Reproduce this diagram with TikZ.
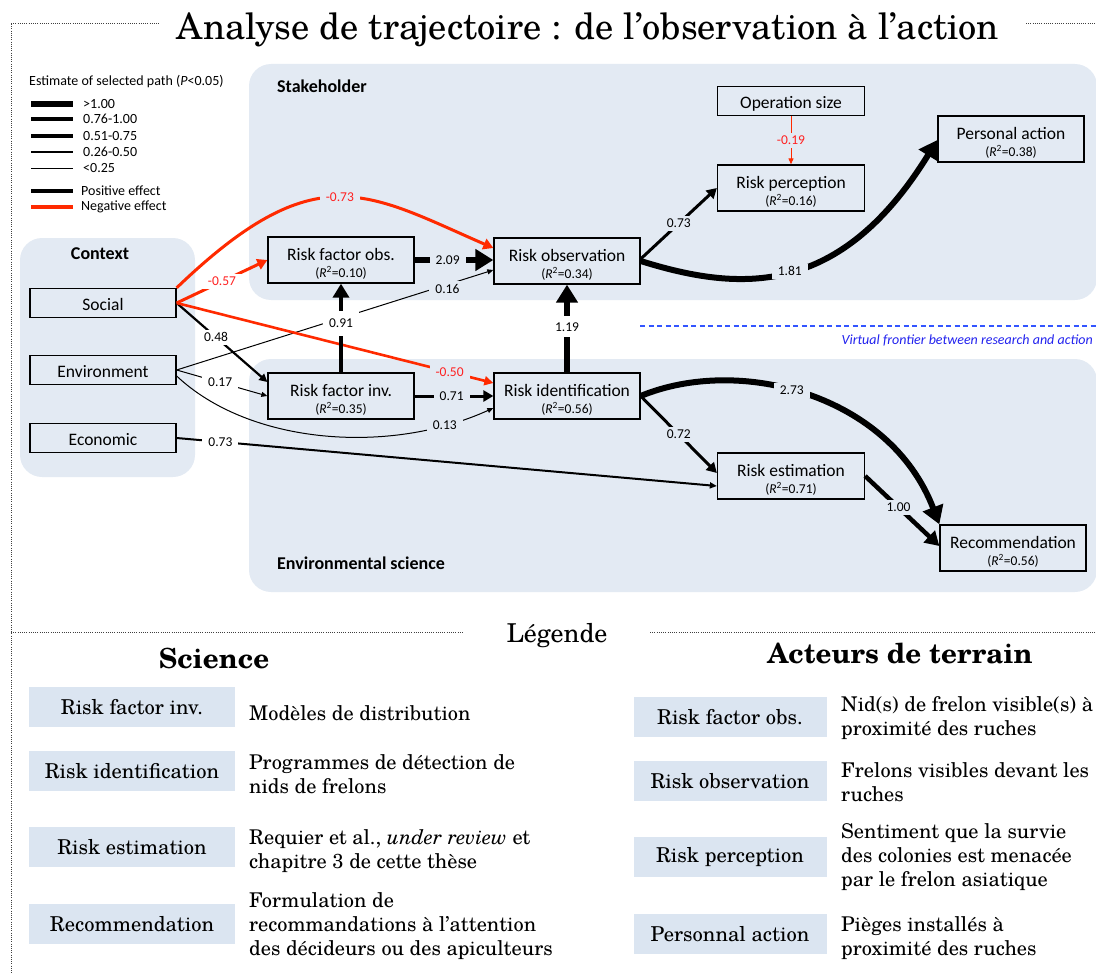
\documentclass[tikz,border=0pt]{standalone}
\usepackage{fontspec}
\setmainfont{texgyreschola}[Extension=.otf,UprightFont=*-regular,ItalicFont=*-italic,BoldFont=*-bold,BoldItalicFont=*-bolditalic]
\newfontfamily\carl{Carlito}
\usetikzlibrary{arrows.meta,calc}
\definecolor{panel}{HTML}{E3EAF3}
\definecolor{lboxc}{HTML}{DBE5F1}
\definecolor{negc}{HTML}{FF2A00}
\definecolor{negt}{HTML}{FF2020}
\definecolor{frontc}{HTML}{3355FF}
\definecolor{frontt}{HTML}{2222EE}
\newcommand\rsq[2]{\rule{0pt}{20pt}#1\\[-2pt]{\fontsize{13.5}{15}\selectfont(\textit{R}\textsuperscript{2}=#2)}}
\begin{document}
\begin{tikzpicture}[x=1pt,y=-1pt,
 box/.style={draw=black,line width=1.3pt,fill=panel,minimum width=146pt,minimum height=46pt,inner sep=0pt,align=center,font=\carl\fontsize{17.5}{19}\selectfont},
 cbox/.style={box,minimum height=29pt,text height=18pt,text depth=3pt},
 lbl/.style={font=\carl\fontsize{13.5}{15}\selectfont,inner xsep=6pt,inner ysep=3pt,fill=white},
 lblb/.style={lbl,fill=panel},
 nl/.style={text=negt},
 e1/.style={line width=1pt,-{Triangle[length=6pt,width=5pt]}},
 e2/.style={line width=2.2pt,-{Triangle[length=8pt,width=8pt]}},
 e3/.style={line width=3pt,-{Triangle[length=10pt,width=11pt]}},
 e4/.style={line width=4.5pt,-{Triangle[length=14pt,width=16pt]}},
 e6/.style={line width=6pt,-{Triangle[length=18pt,width=21pt]}},
 negl/.style={draw=negc},
 dotl/.style={line width=1pt,dash pattern=on 1pt off 1.2pt,black!75},
 panelbg/.style={fill=panel,rounded corners=22pt},
 lbox/.style={fill=lboxc,minimum height=40pt,inner sep=0pt,font=\fontsize{20.5}{24}\selectfont},
 desc/.style={anchor=west,align=left,inner sep=0pt,font=\fontsize{20.3}{24}\selectfont},
 sect/.style={font=\bfseries\fontsize{27.7}{31}\selectfont},
 lg/.style={font=\carl\fontsize{14}{16}\selectfont,anchor=west,inner sep=0pt},
 ptitle/.style={font=\carl\bfseries\fontsize{18}{20}\selectfont,inner sep=0pt}]
\useasboundingbox (0,0) rectangle (1096,974);
% frame
\draw[dotl] (11,24) -- (159,24);
\draw[dotl] (1026,24) -- (1096,24);
\draw[dotl] (11,24) -- (11,974);
\draw[dotl] (11,632) -- (464,632);
\draw[dotl] (650,632) -- (1096,632);
\node[anchor=base,font=\fontsize{36.3}{40}\selectfont] (title) at (588,40) {Analyse de trajectoire : de l’observation à l’action};
% panels
\fill[panelbg] (249,64) rectangle (1097,300);
\fill[panelbg] (249,359) rectangle (1097,592);
\fill[panelbg] (20,238) rectangle (195,477);
\node[ptitle,anchor=west] (stk) at (277,86) {Stakeholder};
\node[ptitle,anchor=west] (envs) at (277,563) {Environmental science};
\node[ptitle] (ctx) at (100,254) {Context};
% frontier
\draw[frontc,line width=1.3pt,dash pattern=on 5pt off 3.5pt] (640,326) -- (1096,326);
\node[anchor=east,text=frontt,font=\carl\itshape\fontsize{14}{16}\selectfont,inner sep=0pt] (fr) at (1093,340) {Virtual frontier between research and action};
% legend top-left
\node[lg] (lgt) at (29,82) {Estimate of selected path (\textit{P}<0.05)};
\draw[line width=6pt] (31,104) -- (73,104);
\draw[line width=4.6pt] (31,119) -- (73,119);
\draw[line width=3.4pt] (31,136) -- (73,136);
\draw[line width=2.2pt] (31,152) -- (73,152);
\draw[line width=1pt] (31,168) -- (73,168);
\draw[line width=3.4pt] (31,191) -- (73,191);
\draw[negc,line width=3.4pt] (31,207) -- (73,207);
\node[lg] (l1) at (83,104) {>1.00};
\node[lg] (l2) at (83,119) {0.76-1.00};
\node[lg] (l3) at (83,136) {0.51-0.75};
\node[lg] (l4) at (83,152) {0.26-0.50};
\node[lg] (l5) at (83,168) {<0.25};
\node[lg] (l6) at (81,191) {Positive effect};
\node[lg] (l7) at (81,207) {Negative effect};
% nodes
\node[cbox] (soc) at (103,303) {Social};
\node[cbox] (env) at (103,370) {Environment};
\node[cbox] (eco) at (103,438) {Economic};
\node[box] (rfo) at (341,260) {\rsq{Risk factor obs.}{0.10}};
\node[box] (ro) at (567,261) {\rsq{Risk observation}{0.34}};
\node[box] (rfi) at (341,396) {\rsq{Risk factor inv.}{0.35}};
\node[box] (ri) at (567,396) {\rsq{Risk identification}{0.56}};
\node[cbox,minimum width=147pt] (ops) at (791,101) {Operation size};
\node[box,minimum width=147pt] (rp) at (791,188) {\rsq{Risk perception}{0.16}};
\node[box] (pa) at (1011,139) {\rsq{Personal action}{0.38}};
\node[box,minimum width=147pt] (re) at (791,476) {\rsq{Risk estimation}{0.71}};
\node[box] (rec) at (1013,548) {\rsq{Recommendation}{0.56}};
% edges
\draw[e1] (env.east) -- node[lblb,pos=0.855,yshift=-4pt] {0.16} ($(ro.west)+(0,9)$);
\draw[e1] (env.east) -- node[lbl,pos=0.48] {0.17} (rfi.west);
\draw[e1] ($(env.east)+(0,6)$) .. controls (250,445) and (390,455) .. node[lblb,pos=0.85] {0.13} ($(ri.west)+(0,12)$);
\draw[line width=2pt,-{Triangle[length=7pt,width=6pt]}] (eco.east) -- node[lbl,pos=0.081] {0.73} ($(re.west)+(0,10)$);
\draw[e2] (soc.east) -- node[lbl,pos=0.435] {0.48} ($(rfi.west)+(0,-14)$);
\draw[e3,negl] (soc.east) -- node[lbl,nl,pos=0.5] {-0.57} (rfo.west);
\draw[e3,negl] (soc.north east) .. controls (316,154) and (367,193) .. node[lblb,nl,pos=0.5] {-0.73} ($(ro.west)+(0,-13)$);
\draw[negl,line width=2.6pt,-{Triangle[length=9pt,width=9pt]}] (soc.east) -- node[lblb,nl,pos=0.862] {-0.50} ($(ri.west)+(0,-13)$);
\draw[e4] (rfi.north) -- node[lbl,pos=0.555,inner ysep=8pt] {0.91} (rfo.south);
\draw[e6] (rfo.east) -- node[lblb,pos=0.42] {2.09} (rfo.east -| ro.west);
\draw[e3] (rfi.east) -- node[lblb,pos=0.47] {0.71} (rfi.east -| ri.west);
\draw[e6] (ri.north) -- node[lbl,pos=0.52,inner ysep=6pt] {1.19} (ro.south);
\draw[e3] ($(ro.east)+(0,-2)$) -- node[lblb] {0.73} (rp.west);
\draw[e6] (ro.east) .. controls (740,292) and (840,298) .. node[lblb,pos=0.5] {1.81} ($(pa.west)+(0,1)$);
\draw[e1,negl] (ops.south) -- node[lblb,nl] {-0.19} (rp.north);
\draw[e3] (ri.east) -- node[lblb] {0.72} ($(re.west)+(0,-3)$);
\draw[e6] (ri.east) .. controls (740,355) and (890,395) .. node[lblb,pos=0.45] {2.73} (rec.north west);
\draw[e4] (re.east) -- node[lblb,pos=0.45] {1.00} ($(rec.west)+(0,-2)$);
% legend bottom
\node[anchor=base,font=\fontsize{26}{30}\selectfont] (leg) at (557,642) {Légende};
\node[sect,anchor=base] (sci) at (214,668) {Science};
\node[sect,anchor=base] (act) at (900,663) {Acteurs de terrain};
\node[lbox,minimum width=206pt] (s1) at (132,707) {Risk factor inv.};
\node[lbox,minimum width=206pt] (s2) at (132,771) {Risk identification};
\node[lbox,minimum width=206pt] (s3) at (132,847) {Risk estimation};
\node[lbox,minimum width=206pt] (s4) at (132,924) {Recommendation};
\node[desc] (d1) at (249,713) {Modèles de distribution};
\node[desc] (d2) at (249,774) {Programmes de détection de\\nids de frelons};
\node[desc] (d3) at (249,851) {Requier et al., \textit{under review} et\\chapitre 3 de cette thèse};
\node[desc] (d4) at (249,926) {Formulation de\\recommandations à l’attention\\des décideurs ou des apiculteurs};
\node[lbox,minimum width=193pt] (a1) at (730,717) {Risk factor obs.};
\node[lbox,minimum width=193pt] (a2) at (730,781) {Risk observation};
\node[lbox,minimum width=193pt] (a3) at (730,857) {Risk perception};
\node[lbox,minimum width=193pt] (a4) at (730,934) {Personnal action};
\node[desc] (b1) at (841,718) {Nid(s) de frelon visible(s) à\\proximité des ruches};
\node[desc] (b2) at (841,782) {Frelons visibles devant les\\ruches};
\node[desc] (b3) at (841,857) {Sentiment que la survie\\des colonies est menacée\\par le frelon asiatique};
\node[desc] (b4) at (841,938) {Pièges installés à\\proximité des ruches};
\end{tikzpicture}
\end{document}
